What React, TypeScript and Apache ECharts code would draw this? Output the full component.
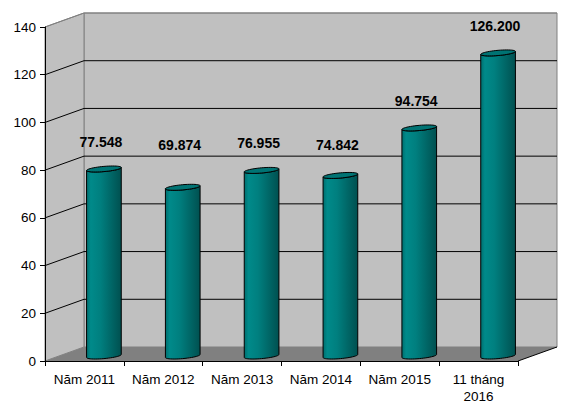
import React, { useEffect, useRef } from "react";
import * as echarts from "echarts";

const categories = ["Năm 2011", "Năm 2012", "Năm 2013", "Năm 2014", "Năm 2015", "11 tháng\n2016"];
const values = [77.548, 69.874, 76.955, 74.842, 94.754, 126.2];
const yTicks = [0, 20, 40, 60, 80, 100, 120, 140];

const DX = 39;
const DY = -14;
const FONT = 'Arial, "Liberation Sans", sans-serif';

export default function App() {
  const ref = useRef<HTMLDivElement>(null);
  useEffect(() => {
    if (!ref.current) return;
    const chart = echarts.init(ref.current, null, { renderer: "svg" });

    const wallsRender = (params: any, api: any) => {
      const v = api.value(1);
      const cs = params.coordSys;
      const x0 = cs.x;
      const x1 = cs.x + cs.width;
      const yTop = cs.y;
      const yBot = cs.y + cs.height;
      const [, y] = api.coord([0, v]);
      if (v === yTicks[0]) {
        return {
          type: "group",
          children: [
            {
              type: "polygon",
              shape: { points: [[x0 + DX, yTop + DY], [x1 + DX, yTop + DY], [x1 + DX, yBot + DY], [x0 + DX, yBot + DY]] },
              style: { fill: "#C0C0C0", stroke: "#808080", lineWidth: 1 },
            },
            {
              type: "polygon",
              shape: { points: [[x0, yTop], [x0 + DX, yTop + DY], [x0 + DX, yBot + DY], [x0, yBot]] },
              style: { fill: "#C0C0C0", stroke: "#808080", lineWidth: 1 },
            },
            {
              type: "polygon",
              shape: { points: [[x0, yBot], [x0 + DX, yBot + DY], [x1 + DX, yBot + DY], [x1, yBot]] },
              style: { fill: "#808080" },
            },
            {
              type: "line",
              shape: { x1: x1, y1: yBot, x2: x1 + DX, y2: yBot + DY },
              style: { stroke: "#000", lineWidth: 1 },
            },
          ],
        };
      }
      if (v === yTicks[yTicks.length - 1]) {
        return {
          type: "group",
          children: [
            { type: "line", shape: { x1: x0 + DX, y1: y + DY, x2: x1 + DX, y2: y + DY }, style: { stroke: "#808080", lineWidth: 1 } },
            { type: "line", shape: { x1: x0, y1: y, x2: x0 + DX, y2: y + DY }, style: { stroke: "#808080", lineWidth: 1 } },
          ],
        };
      }
      return {
        type: "group",
        children: [
          { type: "line", shape: { x1: x0 + DX, y1: y + DY, x2: x1 + DX, y2: y + DY }, style: { stroke: "#000", lineWidth: 1 } },
          { type: "line", shape: { x1: x0, y1: y, x2: x0 + DX, y2: y + DY }, style: { stroke: "#000", lineWidth: 1 } },
        ],
      };
    };

    const cylRender = (params: any, api: any) => {
      const i = api.value(0);
      const v = api.value(1);
      const [fx, fy] = api.coord([i, v]);
      const [, fy0] = api.coord([i, 0]);
      const cx = fx + DX / 2;
      const ty = fy + DY / 2;
      const by = fy0 + DY / 2 + 2;
      const r = api.size([1, 0])[0] * 0.22;
      const k = 1.5;
      const e = 2.6;
      const pt = (cy: number, t: number) => [cx + r * Math.cos(t), cy - k * Math.cos(t) - e * Math.sin(t)];
      const N = 24;
      let body = "";
      const tl = pt(ty, Math.PI);
      body += `M${tl[0]},${tl[1]}`;
      for (let j = 0; j <= N; j++) {
        const p = pt(by, Math.PI + (Math.PI * j) / N);
        body += `L${p[0]},${p[1]}`;
      }
      for (let j = 0; j <= N; j++) {
        const p = pt(ty, 2 * Math.PI - (Math.PI * j) / N);
        body += `L${p[0]},${p[1]}`;
      }
      body += "Z";
      let top = "";
      for (let j = 0; j <= 2 * N; j++) {
        const p = pt(ty, (Math.PI * j) / N);
        top += (j === 0 ? "M" : "L") + `${p[0]},${p[1]}`;
      }
      top += "Z";
      const labelY = Math.min(ty - 27, 145);
      return {
        type: "group",
        children: [
          {
            type: "path",
            shape: { pathData: body },
            style: {
              fill: new echarts.graphic.LinearGradient(0, 0, 1, 0, [
                { offset: 0, color: "#006e6e" },
                { offset: 0.12, color: "#008a8a" },
                { offset: 0.4, color: "#007f7f" },
                { offset: 1, color: "#005050" },
              ]),
              stroke: "#000",
              lineWidth: 1,
            },
          },
          {
            type: "path",
            shape: { pathData: top },
            style: { fill: "#007373", stroke: "#000", lineWidth: 1 },
          },
          {
            type: "text",
            style: {
              text: v.toFixed(3),
              x: cx - 3,
              y: labelY,
              align: "center",
              verticalAlign: "middle",
              font: `bold 14px ${FONT}`,
              fill: "#000",
            },
          },
        ],
      };
    };

    chart.setOption({
      animation: false,
      backgroundColor: "#fff",
      grid: { left: 45, top: 27, width: 473, height: 336 },
      xAxis: {
        type: "category",
        data: categories,
        z: 10,
        axisLine: { lineStyle: { color: "#000", width: 1 } },
        axisTick: { show: true, length: 5, interval: 0, lineStyle: { color: "#000" } },
        axisLabel: {
          interval: 0,
          color: "#000",
          fontSize: 13.5,
          fontFamily: FONT,
          margin: 10,
          lineHeight: 17,
        },
        splitLine: { show: false },
      },
      yAxis: {
        type: "value",
        min: 0,
        max: 140,
        interval: 20,
        z: 10,
        axisLine: { show: true, lineStyle: { color: "#000", width: 1 } },
        axisTick: { show: true, length: 5, lineStyle: { color: "#000" } },
        axisLabel: { color: "#000", fontSize: 13.5, fontFamily: FONT, margin: 9 },
        splitLine: { show: false },
      },
      series: [
        {
          type: "custom",
          renderItem: wallsRender,
          data: yTicks.map((t) => [0, t]),
          encode: { x: 0, y: 1 },
          clip: false,
          silent: true,
          z: 1,
        },
        {
          type: "custom",
          renderItem: cylRender,
          data: values.map((v, i) => [i, v]),
          encode: { x: 0, y: 1 },
          clip: false,
          z: 5,
        },
      ],
    });
    return () => chart.dispose();
  }, []);
  return (
    <div
      ref={ref}
      style={{ position: "fixed", left: 0, top: 0, width: 575, height: 405, background: "#fff" }}
    />
  );
}
